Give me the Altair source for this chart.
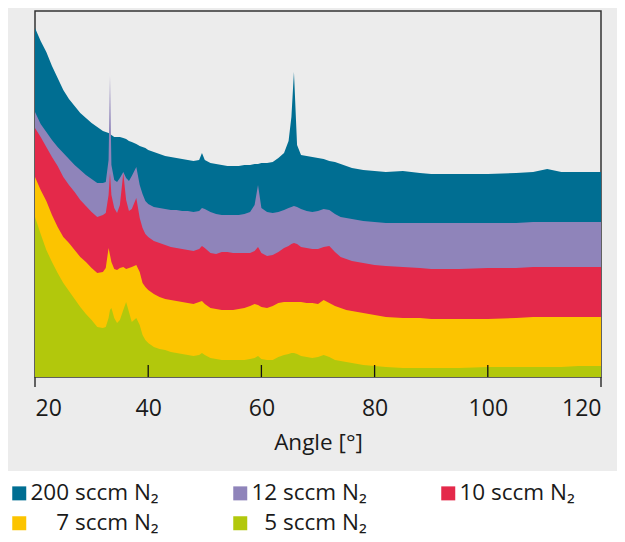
import altair as alt
import pandas as pd

FONT = "Open Sans"
TEXT = "#1a1a1a"

# Diffraction angle grid (degrees)
angles = [20, 21, 22, 23, 24, 25, 26, 27, 28, 29, 30, 31, 32, 32.5, 33, 33.25, 33.5, 34, 34.5, 35,
          35.6, 36.1, 36.6, 37.1, 37.9, 38.5, 39, 39.5, 40, 41, 42, 43, 44, 45, 46, 47, 48, 49, 49.5, 50,
          51, 52, 53, 54, 55, 56, 57, 58, 58.8, 59.4, 60, 61, 62, 63, 64, 64.8, 65.3, 65.75, 66.3, 67,
          68, 69, 70, 71, 72, 73, 74, 75, 76, 78, 80, 82, 85, 88, 90, 95, 100, 105, 108, 110.5,
          113, 116, 120]

# Offset intensity curves (arbitrary units)
n2_200 = [349, 336, 325, 311, 299, 287, 278, 271, 264, 259, 254, 250, 246, 245, 244, 243, 242, 240, 240, 240,
          239, 238, 236, 235, 233, 231, 230, 229, 227, 225, 223, 221, 220, 219, 218, 217, 216, 217, 224, 217,
          214, 213, 212, 211, 211, 211, 212, 212, 213, 213, 214, 214, 215, 219, 224, 236, 260, 305, 232, 222,
          221, 220, 219, 218, 216, 215, 213, 211, 209, 207, 206, 205, 206, 204, 203, 203, 203, 204, 205, 208,
          205, 205, 205]
n2_12 = [265, 253, 245, 237, 230, 224, 218, 212, 207, 202, 198, 194, 194, 195, 217, 301, 212, 197, 195, 199,
         205, 199, 196, 201, 210, 192, 183, 176, 173, 170, 169, 168, 167, 167, 166, 166, 165, 166, 169, 168,
         165, 163, 162, 162, 162, 162, 163, 165, 172, 192, 169, 165, 164, 165, 167, 169, 170, 171, 170, 168,
         166, 165, 166, 168, 167, 163, 160, 159, 158, 156, 155, 154, 154, 154, 154, 154, 154, 154, 155, 155,
         155, 155, 155]
n2_10 = [249, 240, 230, 220, 211, 200, 192, 185, 177, 171, 165, 160, 162, 164, 182, 204, 182, 169, 164, 172,
         204, 177, 166, 168, 179, 159, 149, 143, 140, 136, 134, 132, 130, 129, 128, 127, 126, 128, 131, 129,
         124, 123, 125, 125, 124, 124, 124, 124, 126, 130, 124, 121, 122, 125, 129, 131, 133, 134, 133, 130,
         129, 128, 128, 130, 131, 125, 120, 118, 116, 114, 112, 111, 110, 109, 108, 108, 109, 109, 110, 110,
         110, 110, 110]
n2_7 = [200, 187, 176, 162, 150, 140, 134, 127, 120, 115, 109, 104, 105, 109, 129, 122, 115, 108, 107, 109,
        110, 108, 109, 110, 112, 105, 94, 90, 87, 83, 80, 78, 77, 76, 75, 74, 73, 75, 76, 73,
        69, 68, 67, 67, 67, 68, 69, 71, 73, 72, 70, 69, 71, 74, 75, 75, 75, 75, 75, 75,
        74, 74, 73, 77, 74, 71, 69, 67, 66, 64, 62, 60, 59, 59, 58, 58, 58, 59, 60, 60,
        60, 60, 60]
n2_5 = [160, 143, 127, 115, 104, 94, 86, 78, 70, 63, 57, 50, 49, 50, 59, 67, 69, 59, 54, 57,
        67, 75, 65, 55, 59, 52, 42, 37, 34, 30, 28, 27, 25, 24, 23, 22, 21, 22, 24, 22,
        19, 18, 17, 17, 17, 17, 17, 18, 19, 21, 18, 17, 17, 20, 22, 23, 24, 24, 23, 21,
        20, 19, 20, 22, 20, 17, 16, 15, 14, 12, 11, 10, 9, 9, 9, 9, 10, 10, 10, 10,
        10, 11, 11]

# zero-width lead char keeps the figure spaces from being trimmed
PAD = "\u200b"
FS = "\u2007"
series_names = ["200 sccm N\u2082", "12 sccm N\u2082", "10 sccm N\u2082",
                PAD + FS * 2 + "7 sccm N\u2082", PAD + FS + "5 sccm N\u2082"]
series_colors = ["#006e92", "#8f84ba", "#e4294a", "#fcc400", "#b2c80c"]
series_values = [n2_200, n2_12, n2_10, n2_7, n2_5]

tick_inner = [40, 60, 80, 100]
tick_outer = [20, 120]

rows = []
for i, (name, vals) in enumerate(zip(series_names, series_values)):
    assert len(vals) == len(angles)
    for a, v in zip(angles, vals):
        rows.append({"angle": a, "intensity": v, "series": name, "idx": i})
df = pd.DataFrame(rows)

x_enc = alt.X(
    "angle:Q",
    scale=alt.Scale(domain=[20, 120], nice=False, zero=False),
    axis=alt.Axis(
        values=[20, 40, 60, 80, 100, 120], tickSize=0, domain=False, grid=False,
        labelFont=FONT, labelFontSize=23, labelFontWeight="normal", labelColor=TEXT, labelPadding=20,
        title="Angle [°]", titleFont=FONT, titleFontSize=22.5, titleFontWeight="normal",
        titleColor=TEXT, titlePadding=11,
    ),
)
y_enc = alt.Y("intensity:Q", scale=alt.Scale(domain=[0, 366], nice=False), axis=None, stack=None)

color_enc = alt.Color(
    "series:N",
    scale=alt.Scale(domain=series_names, range=series_colors),
    legend=alt.Legend(
        title=None, orient="none", legendX=-27, legendY=471, direction="horizontal",
        columns=3, symbolType="square", symbolSize=196, symbolStrokeWidth=0, symbolOpacity=1,
        labelFont=FONT, labelFontSize=22.5, labelFontWeight="normal", labelColor=TEXT,
        labelOffset=0, columnPadding=70, rowPadding=7, padding=0, gridAlign="each",
        labelLimit=400,
    ),
)

legend_bg = alt.Chart(alt.Data(values=[{}])).mark_rect(color="white").encode(
    x=alt.value(-27), x2=alt.value(600), y=alt.value(460), y2=alt.value(540)
)

areas = []
for i in range(len(series_names)):
    areas.append(
        alt.Chart(df)
        .transform_filter(alt.datum.idx == i)
        .mark_area(interpolate="linear")
        .encode(x=x_enc, y=y_enc, color=color_enc)
    )

ticks_in = alt.Chart(pd.DataFrame({"angle": tick_inner})).mark_rule(
    color="#111111", strokeWidth=1.3
).encode(x=x_enc, y=alt.value(354), y2=alt.value(366))

ticks_out = alt.Chart(pd.DataFrame({"angle": tick_outer})).mark_rule(
    color="#333333", strokeWidth=1.5
).encode(x=x_enc, y=alt.value(366), y2=alt.value(376))

chart = (
    alt.layer(legend_bg, *areas, ticks_in, ticks_out)
    .properties(
        width=566, height=366,
        autosize=alt.AutoSizeParams(type="none"),
        padding={"left": 27, "top": 3, "right": 16, "bottom": 165},
        background="#ececec",
    )
    .configure_view(stroke="#333333", strokeWidth=1.5)
)

chart.save("out.html", embed_options={"renderer": "svg", "actions": False})
